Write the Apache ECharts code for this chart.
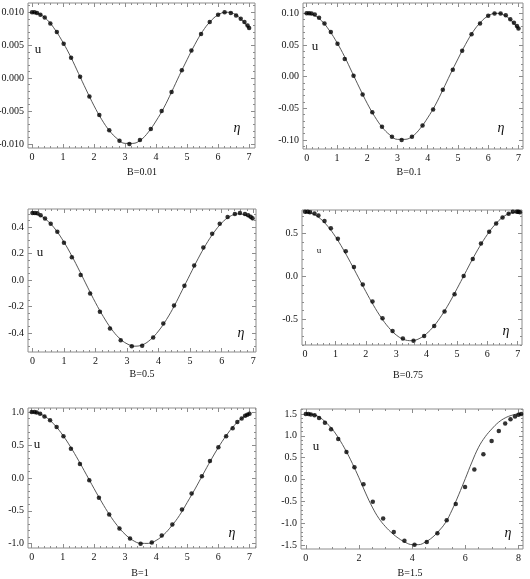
<!DOCTYPE html>
<html>
<head>
<meta charset="utf-8">
<script src="https://cdn.jsdelivr.net/npm/echarts@6/dist/echarts.min.js"></script>
<style>
html,body{margin:0;padding:0;background:#fff}
#main{width:530px;height:579px}
</style>
</head>
<body>
<div id="main"></div>
<script>
// eta grid for the solid curves
var etaLine7 = [0,0.25,0.5,0.75,1,1.25,1.5,1.75,2,2.25,2.5,2.75,3,3.25,3.5,3.75,4,4.25,4.5,4.75,5,5.25,5.5,5.75,6,6.25,6.5,6.75,7];
var etaLine8 = [0,0.25,0.5,0.75,1,1.25,1.5,1.75,2,2.25,2.5,2.75,3,3.25,3.5,3.75,4,4.25,4.5,4.75,5,5.25,5.5,5.75,6,6.25,6.5,6.75,7,7.25,7.5,7.75,8,8.1];

// curves
var uLineB001 = [0.0100,0.0097,0.0088,0.0073,0.0054,0.0032,0.0007,-0.0018,-0.0042,-0.0063,-0.0080,-0.0092,-0.0099,-0.0099,-0.0094,-0.0082,-0.0065,-0.0045,-0.0021,0.0004,0.0028,0.0051,0.0071,0.0086,0.0096,0.0100,0.0098,0.0089,0.0075];
var uLineB01 = [0.100,0.097,0.088,0.073,0.054,0.032,0.007,-0.018,-0.042,-0.063,-0.080,-0.092,-0.099,-0.099,-0.094,-0.082,-0.065,-0.045,-0.021,0.004,0.028,0.051,0.071,0.086,0.096,0.100,0.098,0.089,0.075];
var uLineB05 = [0.500,0.486,0.443,0.376,0.287,0.182,0.066,-0.054,-0.171,-0.277,-0.368,-0.438,-0.482,-0.500,-0.489,-0.449,-0.385,-0.299,-0.195,-0.077,0.042,0.160,0.267,0.358,0.431,0.479,0.500,0.491,0.452];
var uLineB075 = [0.750,0.731,0.675,0.584,0.464,0.320,0.160,-0.008,-0.176,-0.335,-0.477,-0.595,-0.683,-0.735,-0.750,-0.727,-0.667,-0.575,-0.453,-0.308,-0.144,0.025,0.194,0.351,0.489,0.604,0.689,0.738,0.750];
var uLineB1 = [1.000,0.977,0.908,0.797,0.648,0.469,0.269,0.056,-0.159,-0.367,-0.559,-0.724,-0.856,-0.948,-0.994,-0.995,-0.950,-0.860,-0.728,-0.570,-0.372,-0.168,0.048,0.262,0.463,0.641,0.791,0.905,0.975];
var uLineB15 = [1.50,1.49,1.43,1.31,1.15,0.93,0.67,0.37,0.04,-0.31,-0.63,-0.89,-1.08,-1.23,-1.35,-1.44,-1.49,-1.49,-1.43,-1.33,-1.18,-0.99,-0.70,-0.35,0.02,0.40,0.74,0.98,1.16,1.31,1.41,1.47,1.50,1.50];

// dots
var etaDots = [0,0.08,0.16,0.27,0.41,0.59,0.80,1.02,1.26,1.55,1.85,2.17,2.49,2.82,3.14,3.48,3.83,4.18,4.50,4.83,5.14,5.45,5.73,6.00,6.21,6.41,6.58,6.73,6.85,6.95,7.00];
var uDotsB001 = [0.0100,0.0100,0.0099,0.0096,0.0092,0.0083,0.0070,0.0052,0.0031,0.0002,-0.0028,-0.0056,-0.0079,-0.0095,-0.0100,-0.0094,-0.0077,-0.0050,-0.0021,0.0012,0.0042,0.0067,0.0085,0.0096,0.0100,0.0099,0.0095,0.0090,0.0085,0.0080,0.0076];
var uDotsB01 = [0.100,0.100,0.0999,0.098,0.093,0.084,0.0705,0.052,0.028,0.0016,-0.028,-0.056,-0.079,-0.095,-0.100,-0.095,-0.077,-0.052,-0.0205,0.011,0.041,0.067,0.084,0.096,0.0999,0.0999,0.097,0.0905,0.085,0.080,0.076];
var etaDotsB05 = [0,0.08,0.16,0.26,0.40,0.58,0.79,1.0,1.25,1.53,1.83,2.14,2.46,2.80,3.15,3.48,3.83,4.15,4.49,4.82,5.13,5.42,5.70,5.94,6.19,6.42,6.58,6.74,6.84,6.92,6.98];
var uDotsB05 = [0.506,0.506,0.504,0.49,0.466,0.425,0.365,0.281,0.172,0.038,-0.101,-0.24,-0.367,-0.456,-0.501,-0.496,-0.435,-0.329,-0.192,-0.043,0.109,0.246,0.349,0.425,0.476,0.50,0.506,0.499,0.489,0.478,0.468];
var etaDotsB075 = [0,0.09,0.16,0.31,0.44,0.64,0.85,1.08,1.34,1.61,1.90,2.22,2.55,2.88,3.22,3.57,3.92,4.25,4.59,4.92,5.22,5.52,5.79,6.06,6.29,6.50,6.70,6.84,6.97,7.02,7.07];
var uDotsB075 = [0.754,0.754,0.75,0.734,0.71,0.648,0.5625,0.44,0.293,0.109,-0.094,-0.293,-0.488,-0.637,-0.723,-0.75,-0.695,-0.578,-0.41,-0.207,0.004,0.203,0.383,0.52,0.617,0.6875,0.73,0.754,0.754,0.754,0.75];
var etaDotsB1 = [0,0.09,0.16,0.27,0.41,0.59,0.80,1.02,1.26,1.55,1.85,2.16,2.49,2.82,3.16,3.50,3.86,4.18,4.52,4.83,5.14,5.47,5.73,6.0,6.25,6.46,6.61,6.75,6.86,6.93,7.0];
var uDotsB1 = [1.0,1.0,0.995,0.975,0.934,0.874,0.773,0.631,0.444,0.212,-0.035,-0.303,-0.556,-0.768,-0.919,-1.0,-0.98,-0.874,-0.707,-0.48,-0.237,0.025,0.258,0.465,0.631,0.753,0.848,0.904,0.944,0.96,0.975];
var etaDotsB15 = [0,0.10,0.19,0.33,0.50,0.72,0.95,1.22,1.53,1.83,2.17,2.52,2.91,3.31,3.71,4.09,4.55,4.95,5.30,5.64,5.99,6.34,6.68,6.99,7.26,7.50,7.70,7.87,8.0,8.1];
var uDotsB15 = [1.50,1.50,1.49,1.47,1.41,1.30,1.15,0.93,0.63,0.28,-0.11,-0.51,-0.89,-1.20,-1.40,-1.49,-1.43,-1.23,-0.93,-0.56,-0.17,0.23,0.58,0.88,1.11,1.28,1.38,1.44,1.48,1.50];

// tick labels
var xTicks7 = [0,1,2,3,4,5,6,7];
var xTicks8 = [0,2,4,6,8];
var yTicksB001 = [-0.010,-0.005,0,0.005,0.010];
var yTicksB01 = [-0.10,-0.05,0,0.05,0.10];
var yTicksB05 = [-0.4,-0.2,0,0.2,0.4];
var yTicksB075 = [-0.5,0,0.5];
var yTicksB1 = [-1.0,-0.5,0,0.5,1.0];
var yTicksB15 = [-1.5,-1.0,-0.5,0,0.5,1.0,1.5];
var titles = ['B=0.01','B=0.1','B=0.5','B=0.75','B=1','B=1.5'];

var panels = [
    {box:[28,3,227,145], x:[-0.13,7.19], xTicks:xTicks7, xMinor:0.2, y:[-0.0106,0.0114], yTicks:yTicksB001, yMinor:0.001, dec:3,
     lineEta:etaLine7, line:uLineB001, dotEta:etaDots, dots:uDotsB001, uPos:[38,50], uSize:13, etaPos:[237,128], tPos:[142,172]},
    {box:[303,3,220,146], x:[-0.12,7.15], xTicks:xTicks7, xMinor:0.2, y:[-0.1142,0.1163], yTicks:yTicksB01, yMinor:0.01, dec:2,
     lineEta:etaLine7, line:uLineB01, dotEta:etaDots, dots:uDotsB01, uPos:[315,47], uSize:13, etaPos:[501,128], tPos:[409,172]},
    {box:[28,209,228,143], x:[-0.14,7.09], xTicks:xTicks7, xMinor:0.2, y:[-0.544,0.537], yTicks:yTicksB05, yMinor:0.05, dec:1,
     lineEta:etaLine7, line:uLineB05, dotEta:etaDotsB05, dots:uDotsB05, uPos:[40,253], uSize:13, etaPos:[241,333], tPos:[142,374]},
    {box:[302,210,220,135], x:[-0.10,7.14], xTicks:xTicks7, xMinor:0.2, y:[-0.80,0.775], yTicks:yTicksB075, yMinor:0.1, dec:1,
     lineEta:etaLine7, line:uLineB075, dotEta:etaDotsB075, dots:uDotsB075, uPos:[319,251], uSize:9, etaPos:[506,331], tPos:[408,375]},
    {box:[28,408,228,140], x:[-0.12,7.21], xTicks:xTicks7, xMinor:0.2, y:[-1.065,1.062], yTicks:yTicksB1, yMinor:0.1, dec:1,
     lineEta:etaLine7, line:uLineB1, dotEta:etaDotsB1, dots:uDotsB1, uPos:[37,445], uSize:13, etaPos:[232,533], tPos:[140,573]},
    {box:[301,409,222,140], x:[-0.18,8.17], xTicks:xTicks8, xMinor:0.5, y:[-1.59,1.614], yTicks:yTicksB15, yMinor:0.1, dec:1,
     lineEta:etaLine8, line:uLineB15, dotEta:etaDotsB15, dots:uDotsB15, uPos:[316,447], uSize:13, etaPos:[508,533], tPos:[410,573]}
];

var serif = '"Liberation Serif", "DejaVu Serif", serif';
var frameColor = '#8c8c8c';

function pairs(xs, ys) {
    return xs.map(function (x, k) { return [x, ys[k]]; });
}
function minorVals(lo, hi, step) {
    var out = [];
    for (var k = Math.ceil(lo / step - 1e-9); k * step <= hi + 1e-9; k++) {
        out.push(+(k * step).toFixed(6));
    }
    return out;
}
function yFmt(d) {
    return function (v) {
        return (v < 0 ? '-' : '') + Math.abs(v).toFixed(d);
    };
}
function tickAxis(grid, pos, range, vals, len, label) {
    return {
        gridIndex: grid, type: 'value', position: pos, min: range[0], max: range[1],
        axisLine: {show: false, onZero: false},
        axisTick: {show: true, inside: true, length: len, customValues: vals, lineStyle: {color: frameColor, width: 1}},
        axisLabel: label || {show: false},
        splitLine: {show: false}
    };
}

var grids = [], xAxes = [], yAxes = [], series = [], graphics = [];
panels.forEach(function (p, i) {
    var g = {left: p.box[0], top: p.box[1], width: p.box[2], height: p.box[3],
        containLabel: false, outerBoundsMode: 'none'};
    grids.push(Object.assign({show: true, borderColor: frameColor, borderWidth: 1, backgroundColor: 'transparent'}, g),
        Object.assign({show: false}, g));
    var g0 = i * 2, g1 = i * 2 + 1;
    var xMin = minorVals(p.x[0], p.x[1], p.xMinor);
    var yMin = minorVals(p.y[0], p.y[1], p.yMinor);
    var xi = xAxes.length, yi = yAxes.length;
    xAxes.push(tickAxis(g0, 'bottom', p.x, p.xTicks, 4, {
        show: true, customValues: p.xTicks, margin: 4, color: '#111', fontSize: 10, fontFamily: serif,
        formatter: function (v) { return String(v); }
    }));
    xAxes.push(tickAxis(g0, 'top', p.x, p.xTicks, 4));
    xAxes.push(tickAxis(g1, 'bottom', p.x, xMin, 2));
    xAxes.push(tickAxis(g1, 'top', p.x, xMin, 2));
    yAxes.push(tickAxis(g0, 'left', p.y, p.yTicks, 4, {
        show: true, customValues: p.yTicks, margin: 4, color: '#111', fontSize: 10, fontFamily: serif,
        formatter: yFmt(p.dec)
    }));
    yAxes.push(tickAxis(g0, 'right', p.y, p.yTicks, 4));
    yAxes.push(tickAxis(g1, 'left', p.y, yMin, 2));
    yAxes.push(tickAxis(g1, 'right', p.y, yMin, 2));

    series.push({
        type: 'line', xAxisIndex: xi, yAxisIndex: yi, data: pairs(p.lineEta, p.line),
        smooth: 0.4, showSymbol: false, symbol: 'none', z: 2,
        lineStyle: {color: '#444', width: 0.9}, silent: true
    });
    series.push({
        type: 'scatter', xAxisIndex: xi, yAxisIndex: yi, data: pairs(p.dotEta, p.dots),
        symbol: 'circle', symbolSize: 4.5, z: 3, itemStyle: {color: '#000'}, silent: true
    });

    graphics.push({type: 'text', x: p.uPos[0], y: p.uPos[1], style: {
        text: 'u', font: p.uSize + 'px ' + serif, fill: '#111', align: 'center', verticalAlign: 'middle'}});
    graphics.push({type: 'text', x: p.etaPos[0], y: p.etaPos[1], style: {
        text: '\u03b7', font: 'italic 14px ' + serif, fill: '#111', align: 'center', verticalAlign: 'middle'}});
    graphics.push({type: 'text', x: p.tPos[0], y: p.tPos[1], style: {
        text: titles[i], font: '10px ' + serif, fill: '#111', align: 'center', verticalAlign: 'middle'}});
});

var chart = echarts.init(document.getElementById('main'), null, {renderer: 'canvas'});
chart.setOption({
    animation: false,
    backgroundColor: '#fff',
    grid: grids,
    xAxis: xAxes,
    yAxis: yAxes,
    series: series,
    graphic: graphics
});
</script>
</body>
</html>
